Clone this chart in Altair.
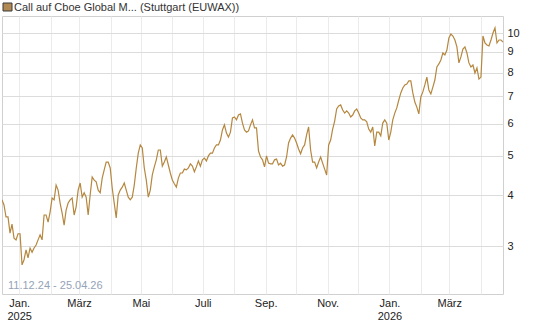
import altair as alt
import pandas as pd

# Series values (roughly every two days)
values = [
    3.90, 3.79, 3.54, 3.54, 3.23, 3.40, 3.14, 3.11, 3.22, 3.22,
    2.70, 2.78, 2.94, 2.81, 2.97, 2.90, 2.97, 3.02, 3.11, 3.20,
    3.11, 3.58, 3.58, 3.44, 3.64, 3.94, 3.90, 4.24, 4.12, 3.83,
    3.62, 3.38, 3.68, 3.83, 3.90, 3.94, 3.58, 3.75, 4.12, 4.29,
    3.96, 4.06, 3.96, 3.58, 4.01, 4.44, 4.36, 4.32, 4.12, 4.06,
    4.41, 4.62, 4.83, 4.83, 4.67, 4.17, 3.83, 3.52, 4.01, 4.12,
    4.19, 4.29, 4.12, 3.96, 3.90, 3.96, 4.24, 4.67, 5.08, 5.32,
    5.23, 4.67, 4.36, 3.96, 4.12, 4.49, 4.70, 4.89, 5.17, 5.17,
    4.72, 4.83, 4.97, 4.75, 4.54, 4.36, 4.27, 4.19, 4.41, 4.54,
    4.54, 4.64, 4.62, 4.67, 4.78, 4.72, 4.57, 4.70, 4.86, 4.72,
    4.89, 4.94, 4.86, 5.00, 5.08, 5.08, 5.23, 5.32, 5.32, 5.47,
    5.79, 5.96, 5.69, 5.56, 5.72, 6.20, 6.23, 6.13, 6.30, 6.34,
    6.02, 5.79, 5.72, 5.76, 5.96, 6.13, 5.86, 5.86, 5.14, 4.97,
    4.89, 4.70, 5.00, 4.80, 4.78, 4.78, 4.89, 4.91, 4.75, 4.80,
    4.72, 4.75, 4.97, 5.38, 5.53, 5.63, 5.53, 5.38, 5.20, 5.06,
    5.23, 5.32, 5.63, 5.89, 5.17, 4.83, 4.83, 4.67, 4.83, 4.97,
    4.80, 4.64, 4.49, 5.32, 5.47, 5.82, 6.09, 6.52, 6.63, 6.67,
    6.48, 6.37, 6.45, 6.37, 6.23, 6.30, 6.45, 6.52, 6.37, 6.20,
    6.13, 6.13, 6.06, 5.82, 5.72, 5.89, 5.29, 5.72, 5.72, 5.60,
    6.02, 6.13, 6.02, 5.47, 5.72, 6.13, 6.37, 6.56, 6.86, 7.14,
    7.34, 7.47, 7.51, 7.64, 7.64, 7.14, 6.78, 6.59, 6.34, 6.98,
    7.18, 7.47, 7.81, 7.26, 7.10, 7.38, 7.68, 8.27, 8.41, 8.60,
    8.95, 8.85, 9.10, 9.74, 9.96, 9.85, 9.63, 9.26, 8.46, 8.75,
    9.15, 9.26, 8.95, 8.46, 8.27, 8.36, 7.99, 8.22, 7.72, 7.81,
    9.85, 9.47, 9.36, 9.31, 9.63, 10.02, 10.31, 9.47, 9.63, 9.63,
    9.52,
]
start_date = "2024-12-15"
end_date = "2026-04-23"
dates = pd.date_range(start_date, end_date, periods=len(values))

series_name = "Call auf Cboe Global M... (Stuttgart (EUWAX))"
range_label = "11.12.24 - 25.04.26"
y_ticks = [3, 4, 5, 6, 7, 8, 9, 10]
y_domain = [2.29, 11.03]
month_names = ["Jan.", "Feb.", "März", "Apr.", "Mai", "Juni", "Juli",
               "Aug.", "Sep.", "Okt.", "Nov.", "Dez."]

df = pd.DataFrame({"date": dates.strftime("%Y-%m-%dT%H:%M:%SZ"), "value": values})

def ms(s):
    return int(pd.Timestamp(s, tz="UTC").value // 10**6)

month_ticks = [ms(d) for d in pd.date_range("2025-01-01", "2026-04-01", freq="MS")]
names_js = "[" + ",".join("'" + m + "'" for m in month_names) + "]"
label_expr = (
    "utcmonth(datum.value) % 2 == 0 ? "
    "(utcmonth(datum.value) == 0 ? [" + names_js + "[0], '' + utcyear(datum.value)] : "
    + names_js + "[utcmonth(datum.value)]) : ''"
)

FONT = "Liberation Sans"
LINE_COLOR = "#b5873f"

line = alt.Chart(df).mark_line(color=LINE_COLOR, strokeWidth=1.2, clip=True).encode(
    x=alt.X("date:T",
            scale=alt.Scale(type="utc", domain=[ms(start_date), ms(end_date)]),
            axis=alt.Axis(values=month_ticks, labelExpr=label_expr, title=None,
                          grid=True, gridColor="#ebebeb", gridWidth=1,
                          ticks=False, domain=False, labelFont=FONT,
                          labelFontSize=11, labelColor="#222222",
                          labelPadding=3, labelLineHeight=13,
                          labelAlign="center", labelBaseline="top",
                          labelOverlap=False, labelFlush=False)),
    y=alt.Y("value:Q",
            scale=alt.Scale(type="log", domain=y_domain, nice=False),
            axis=alt.Axis(orient="right", values=y_ticks, title=None,
                          grid=True, gridColor="#dcdcdc", gridWidth=1,
                          ticks=False, domain=False, labelFont=FONT,
                          labelFontSize=11, labelColor="#222222",
                          labelPadding=4, labelBaseline="middle",
                          labelOverlap=False, labelFlush=False)),
)

dummy = alt.Data(values=[{}])

swatch = alt.Chart(dummy).mark_rect(fill="#b08a52", stroke="#3a3a3a", strokeWidth=1).encode(
    x=alt.value(1), x2=alt.value(10), y=alt.value(-13), y2=alt.value(-5)
)
title = alt.Chart(dummy).mark_text(align="left", baseline="middle", font=FONT,
                                   fontSize=11, color="#333333").encode(
    x=alt.value(12), y=alt.value(-8), text=alt.value(series_name)
)
range_text = alt.Chart(dummy).mark_text(align="left", baseline="middle", font=FONT,
                                        fontSize=11, color="#94a3b8").encode(
    x=alt.value(6), y=alt.value(270), text=alt.value(range_label)
)

chart = alt.layer(line, swatch, title, range_text).properties(
    width=501, height=278,
    autosize=alt.AutoSizeParams(type="none"),
    padding={"left": 2, "top": 16, "right": 42, "bottom": 33},
    background="white",
).configure_view(stroke="#d0d0d0", strokeWidth=1)

chart.save("out.html", embed_options={"renderer": "svg", "actions": False})
